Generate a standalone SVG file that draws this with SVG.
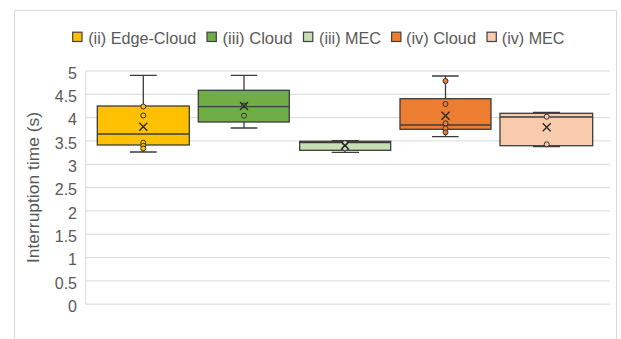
<svg xmlns="http://www.w3.org/2000/svg" width="621" height="339" viewBox="0 0 621 339">
  <style>
    .txt { font-family: "Liberation Sans", Arial, sans-serif; fill: #595959; }
    .tick { font-size: 16px; text-anchor: end; }
    .leg { font-size: 16px; }
    .grid { stroke: #d9d9d9; stroke-width: 1; fill: none; }
    .box { stroke: #3c3c3c; stroke-width: 1.3; }
    .wh { stroke: #3c3c3c; stroke-width: 1.3; fill: none; }
    .mean { stroke: #262626; stroke-width: 1.3; fill: none; }
    .sq { stroke: #404040; stroke-width: 1.2; }
    .s1 { fill: #FFC000; }
    .s2 { fill: #70AD47; }
    .s3 { fill: #C5E0B4; }
    .s4 { fill: #ED7D31; }
    .s5 { fill: #F8CBAD; }
  </style>
  <defs>
    <circle id="pt" r="2.5" stroke="#333" stroke-width="1"/>
    <path id="x" d="M-4,-4 L4,4 M-4,4 L4,-4" class="mean"/>
  </defs>

  <rect x="0" y="0" width="621" height="339" fill="#ffffff"/>
  <!-- chart frame -->
  <rect x="14.5" y="10.5" width="602" height="340" fill="none" stroke="#d9d9d9" stroke-width="1"/>

  <!-- legend -->
  <g id="legend">
    <g id="leg-ii-edge-cloud"><rect class="sq s1" x="72.7" y="32.2" width="9.3" height="9.3"/><text class="txt leg" x="88.2" y="44" textLength="108" lengthAdjust="spacingAndGlyphs">(ii) Edge-Cloud</text></g>
    <g id="leg-iii-cloud"><rect class="sq s2" x="207" y="32.2" width="9.3" height="9.3"/><text class="txt leg" x="222.5" y="44" textLength="70" lengthAdjust="spacingAndGlyphs">(iii) Cloud</text></g>
    <g id="leg-iii-mec"><rect class="sq s3" x="303.5" y="32.2" width="9.3" height="9.3"/><text class="txt leg" x="319" y="44" textLength="62" lengthAdjust="spacingAndGlyphs">(iii) MEC</text></g>
    <g id="leg-iv-cloud"><rect class="sq s4" x="391.6" y="32.2" width="9.3" height="9.3"/><text class="txt leg" x="406" y="44" textLength="70" lengthAdjust="spacingAndGlyphs">(iv) Cloud</text></g>
    <g id="leg-iv-mec"><rect class="sq s5" x="487" y="32.2" width="9.3" height="9.3"/><text class="txt leg" x="501.8" y="44" textLength="62.7" lengthAdjust="spacingAndGlyphs">(iv) MEC</text></g>
  </g>

  <!-- value axis: gridlines and labels -->
  <g id="axis">
    <g class="grid">
      <line x1="85.7" y1="71" x2="610" y2="71"/>
      <line x1="85.7" y1="94.3" x2="610" y2="94.3"/>
      <line x1="85.7" y1="117.6" x2="610" y2="117.6"/>
      <line x1="85.7" y1="140.9" x2="610" y2="140.9"/>
      <line x1="85.7" y1="164.3" x2="610" y2="164.3"/>
      <line x1="85.7" y1="187.6" x2="610" y2="187.6"/>
      <line x1="85.7" y1="210.9" x2="610" y2="210.9"/>
      <line x1="85.7" y1="234.2" x2="610" y2="234.2"/>
      <line x1="85.7" y1="257.6" x2="610" y2="257.6"/>
      <line x1="85.7" y1="280.9" x2="610" y2="280.9"/>
      <line x1="85.7" y1="304.2" x2="610" y2="304.2"/>
      <line x1="85.7" y1="71" x2="85.7" y2="304.2"/>
    </g>
    <g class="txt tick">
      <text x="77" y="78.8">5</text>
      <text x="77" y="102.1">4.5</text>
      <text x="77" y="125.4">4</text>
      <text x="77" y="148.7">3.5</text>
      <text x="77" y="172.1">3</text>
      <text x="77" y="195.4">2.5</text>
      <text x="77" y="218.7">2</text>
      <text x="77" y="242">1.5</text>
      <text x="77" y="265.4">1</text>
      <text x="77" y="288.7">0.5</text>
      <text x="77" y="311.5">0</text>
    </g>
    <text class="txt" font-size="17px" text-anchor="middle" transform="translate(39,187.5) rotate(-90)" textLength="151" lengthAdjust="spacingAndGlyphs">Interruption time (s)</text>
  </g>

  <!-- whiskers -->
  <g id="connectors">
    <path class="wh" d="M143.3,75.3 V106 M143.3,145 V152 M130,75.3 H156.7 M130,152 H156.7"/>
    <path class="wh" d="M244,75.3 V90.3 M244,122 V128 M230.7,75.3 H257.3 M230.7,128 H257.3"/>
    <path class="wh" d="M345,140.7 V141.3 M345,150.3 V152.3 M331.7,140.7 H359 M331.7,152.3 H359"/>
    <path class="wh" d="M445.5,76 V98.7 M445.5,129.3 V136.7 M432,76 H458.7 M432,136.7 H458.7"/>
    <path class="wh" d="M546.7,112.3 V113.3 M546.7,145.7 V146.7 M533,112.3 H560 M533,146.7 H560"/>
  </g>

  <!-- (ii) Edge-Cloud -->
  <g id="box-ii-edge-cloud">
    <rect class="box s1" x="97.3" y="106" width="92" height="39"/>
    <line class="wh" x1="97.3" y1="134" x2="189.3" y2="134"/>
    <use href="#pt" class="s1" x="143.3" y="106.5"/>
    <use href="#pt" class="s1" x="143.3" y="115.5"/>
    <use href="#pt" class="s1" x="143.3" y="142.7"/>
    <use href="#pt" class="s1" x="143.3" y="145.8"/>
    <use href="#pt" class="s1" x="143.3" y="148.5"/>
    <use href="#x" x="143.3" y="126.7"/>
  </g>

  <!-- (iii) Cloud -->
  <g id="box-iii-cloud">
    <rect class="box s2" x="198.3" y="90.3" width="91" height="31.7"/>
    <line class="wh" x1="198.3" y1="106.7" x2="289.3" y2="106.7"/>
    <use href="#pt" class="s2" x="244" y="105.5"/>
    <use href="#pt" class="s2" x="244" y="115.7"/>
    <use href="#x" x="244" y="106"/>
  </g>

  <!-- (iii) MEC -->
  <g id="box-iii-mec">
    <rect class="box s3" x="299.7" y="141.3" width="91" height="9"/>
    <line class="wh" x1="299.7" y1="142.6" x2="390.7" y2="142.6"/>
    <use href="#pt" class="s3" x="345" y="143"/>
    <use href="#pt" class="s3" x="345" y="148.5"/>
    <use href="#x" x="345" y="145.5"/>
  </g>

  <!-- (iv) Cloud -->
  <g id="box-iv-cloud">
    <rect class="box s4" x="400" y="98.7" width="91" height="30.6"/>
    <line class="wh" x1="400" y1="125" x2="491" y2="125"/>
    <use href="#pt" class="s4" x="445.5" y="81"/>
    <use href="#pt" class="s4" x="445.5" y="104"/>
    <use href="#pt" class="s4" x="445.5" y="123.3"/>
    <use href="#pt" class="s4" x="445.5" y="128.3"/>
    <use href="#pt" class="s4" x="445.5" y="132.3"/>
    <use href="#x" x="445.5" y="115.7"/>
  </g>

  <!-- (iv) MEC -->
  <g id="box-iv-mec">
    <rect class="box s5" x="500" y="113.3" width="92.7" height="32.4"/>
    <line class="wh" x1="500" y1="117" x2="592.7" y2="117"/>
    <use href="#pt" class="s5" x="546.7" y="116.7"/>
    <use href="#pt" class="s5" x="546.7" y="144.3"/>
    <use href="#x" x="546.7" y="127.3"/>
  </g>
</svg>
